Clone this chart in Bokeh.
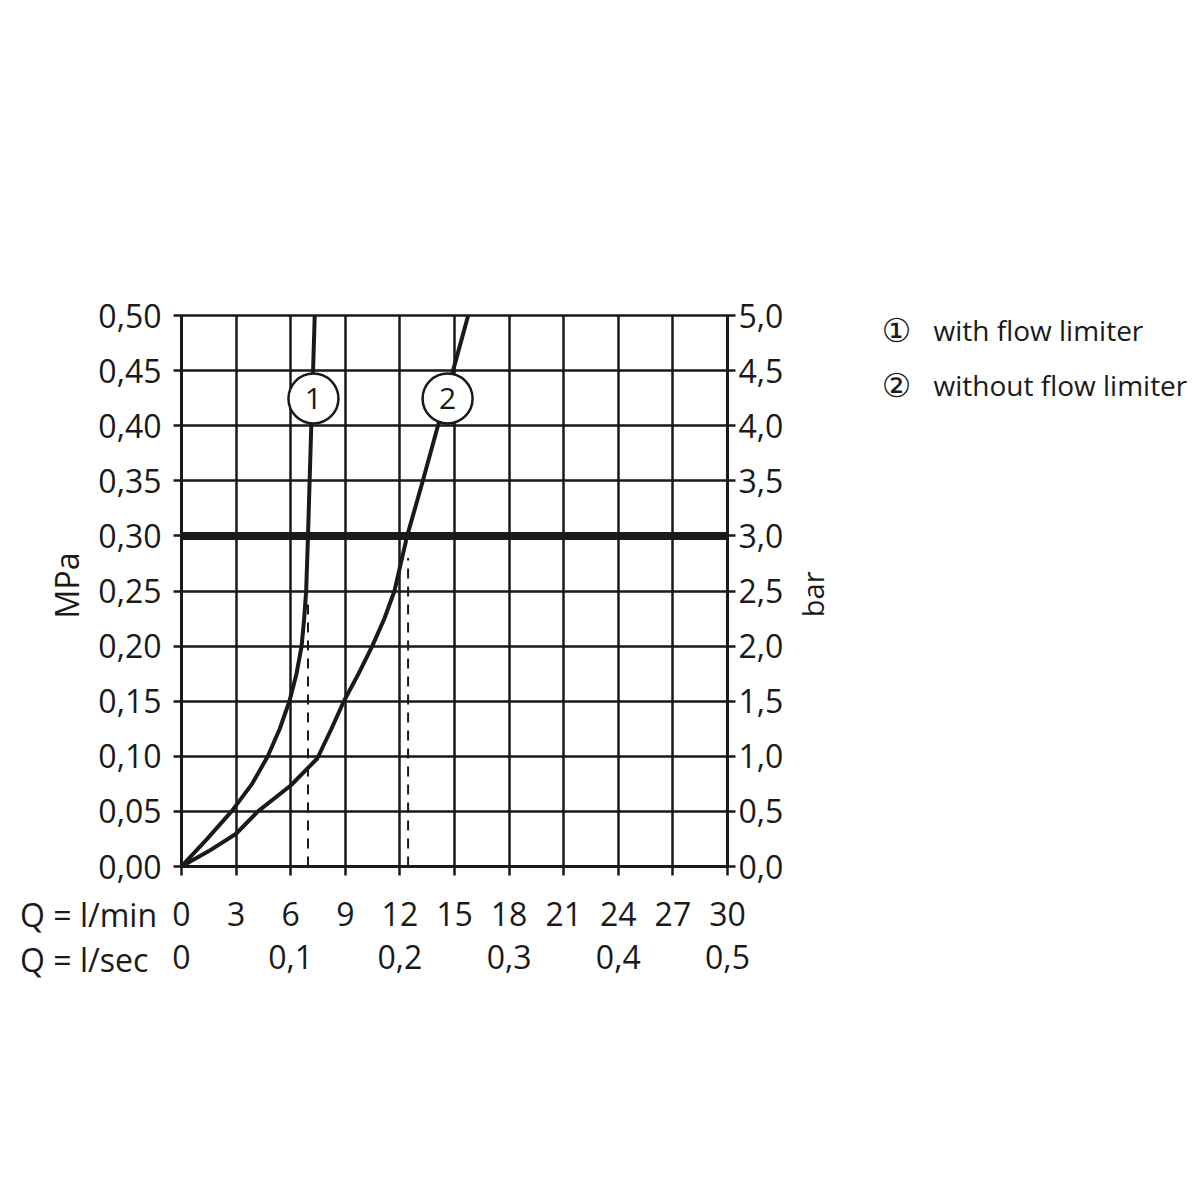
import math
from bokeh.plotting import figure
from bokeh.models import LinearAxis, Range1d, FixedTicker, GridBox
from bokeh.core.properties import value
from bokeh.embed import file_html
from bokeh.resources import INLINE

FONT = "Open Sans"
INK = "#1a1a1a"

# ---------------- data ----------------
q_lmin_ticks = [0, 3, 6, 9, 12, 15, 18, 21, 24, 27, 30]
q_lmin_labels = ["0", "3", "6", "9", "12", "15", "18", "21", "24", "27", "30"]
q_lsec_ticks = [0.0, 0.1, 0.2, 0.3, 0.4, 0.5]
q_lsec_labels = ["0", "0,1", "0,2", "0,3", "0,4", "0,5"]
mpa_ticks = [0.0, 0.05, 0.1, 0.15, 0.2, 0.25, 0.3, 0.35, 0.4, 0.45, 0.5]
mpa_labels = ["0,00", "0,05", "0,10", "0,15", "0,20", "0,25", "0,30", "0,35", "0,40", "0,45", "0,50"]
bar_ticks = [0.0, 0.5, 1.0, 1.5, 2.0, 2.5, 3.0, 3.5, 4.0, 4.5, 5.0]
bar_labels = ["0,0", "0,5", "1,0", "1,5", "2,0", "2,5", "3,0", "3,5", "4,0", "4,5", "5,0"]

# curve 1: with flow limiter (Q l/min, p MPa)
q_with = [0, 1.41, 2.75, 3.88, 4.74, 5.4, 5.93, 6.32, 6.6, 6.74, 6.85, 6.95, 7.04, 7.13, 7.23, 7.32]
p_with = [0, 0.025, 0.05, 0.075, 0.10, 0.125, 0.15, 0.175, 0.20, 0.225, 0.25, 0.30, 0.35, 0.40, 0.45, 0.50]
# curve 2: without flow limiter
q_without = [0, 1.5, 3.0, 4.2, 6.0, 7.46, 8.24, 8.92, 9.73, 10.48, 11.15, 11.7, 12.4, 13.26, 14.09, 14.92, 15.75]
p_without = [0, 0.014, 0.0297, 0.05, 0.0735, 0.098, 0.125, 0.15, 0.175, 0.20, 0.225, 0.25, 0.30, 0.35, 0.40, 0.45, 0.50]

ref_pressure = [0.30]          # 3 bar reference line
drop_q = [6.95, 12.45]         # dashed read-off lines
drop_top = [0.24, 0.28]

curve_ids = ["1", "2"]
curve_tag_q = [7.25, 14.62]
curve_tag_p = [0.4247, 0.4247]

legend_marks = ["\u2460", "\u2461"]
legend_texts = ["with flow limiter", "without flow limiter"]
row_captions = ["Q = l/min", "Q = l/sec"]
left_title = ["MPa"]
right_title = ["bar"]

Q_MAX, P_MAX = 30, 0.5

# ---------------- geometry ----------------
CANVAS = 1190
FL, FR, FT, FB = 181, 727, 315, 866     # frame edges in canvas pixels
XPER = (FR - FL) / Q_MAX
YPER = (FB - FT) / P_MAX

# ---------------- main chart ----------------
p = figure(width=CANVAS, height=CANVAS, x_range=Range1d(0, Q_MAX), y_range=Range1d(0, P_MAX),
           output_backend="svg", toolbar_location=None,
           min_border_left=FL, min_border_right=CANVAS - FR,
           min_border_top=FT, min_border_bottom=CANVAS - FB)
p.background_fill_color = "white"
p.border_fill_color = "white"
p.outline_line_color = INK
p.outline_line_width = 2.5

p.xgrid.ticker = FixedTicker(ticks=q_lmin_ticks)
p.ygrid.ticker = FixedTicker(ticks=mpa_ticks)
for g in (p.xgrid, p.ygrid):
    g.grid_line_color = INK
    g.grid_line_width = 2.5
    g.grid_line_alpha = 1.0


def style_axis(ax, tick_out, standoff):
    ax.axis_line_color = INK
    ax.axis_line_width = 3
    ax.major_tick_line_color = INK
    ax.major_tick_line_width = 2.5
    ax.major_tick_out = tick_out
    ax.major_tick_in = 0
    ax.minor_tick_line_color = None
    ax.major_label_text_font = FONT
    ax.major_label_text_font_size = "32px"
    ax.major_label_text_color = INK
    ax.major_label_standoff = standoff


ya = p.yaxis[0]
ya.ticker = FixedTicker(ticks=mpa_ticks)
ya.major_label_overrides = dict(zip(mpa_ticks, mpa_labels))
style_axis(ya, 8, 12)

xa = p.xaxis[0]
xa.ticker = FixedTicker(ticks=q_lmin_ticks)
xa.major_label_overrides = dict(zip(q_lmin_ticks, q_lmin_labels))
style_axis(xa, 9, 26)

p.extra_y_ranges = {"bar": Range1d(0, 5)}
ra = LinearAxis(y_range_name="bar", ticker=FixedTicker(ticks=bar_ticks))
ra.major_label_overrides = dict(zip(bar_ticks, bar_labels))
style_axis(ra, 8, 3)
p.add_layout(ra, "right")

p.extra_x_ranges = {"sec": Range1d(0, 0.5)}
sa = LinearAxis(x_range_name="sec", ticker=FixedTicker(ticks=q_lsec_ticks))
sa.major_label_overrides = dict(zip(q_lsec_ticks, q_lsec_labels))
style_axis(sa, 0, 16)
sa.axis_line_color = None
sa.major_tick_line_color = None
p.add_layout(sa, "below")

# 3 bar reference line
p.line(x=[0, Q_MAX], y=ref_pressure * 2, line_color=INK, line_width=8)

# dashed read-off lines
p.segment(x0=drop_q, y0=[0, 0], x1=drop_q, y1=drop_top, line_color=INK,
          line_width=2, line_dash="10 8")

# curves
p.line(x=q_with, y=p_with, line_color=INK, line_width=4, line_join="round")
p.line(x=q_without, y=p_without, line_color=INK, line_width=4, line_join="round")

# curve tags
p.scatter(x=curve_tag_q, y=curve_tag_p, size=50, marker="circle",
          fill_color="white", line_color=INK, line_width=2.5)
p.text(x=curve_tag_q, y=curve_tag_p, text=curve_ids, text_font=value(FONT),
       text_font_size="30px", text_color=INK, text_align="center", text_baseline="middle")

# ---------------- transparent overlay for texts outside the frame ----------------
ov = figure(width=CANVAS, height=CANVAS,
            x_range=Range1d(-FL / XPER, (CANVAS - FL) / XPER),
            y_range=Range1d(-(CANVAS - FB) / YPER, P_MAX + FT / YPER),
            output_backend="svg", toolbar_location=None,
            min_border_left=0, min_border_right=0, min_border_top=0, min_border_bottom=0,
            x_axis_location=None, y_axis_location=None)
ov.xgrid.visible = False
ov.ygrid.visible = False
ov.outline_line_color = None
ov.background_fill_color = None
ov.border_fill_color = None
for fig in (p, ov):
    try:
        fig.frame_align = False
    except Exception:
        pass

ov.text(x=[-6.32], y=[0.255], text=left_title, angle=math.pi / 2, text_font=value(FONT),
        text_font_size="32px", text_color=INK, text_align="center", text_baseline="middle")
ov.text(x=[34.67], y=[0.247], text=right_title, angle=math.pi / 2, text_font=value(FONT),
        text_font_size="29px", text_color=INK, text_align="center", text_baseline="middle")
ov.text(x=[-8.87, -8.87], y=[-0.0436, -0.0844], text=row_captions, text_font=value(FONT),
        text_font_size="32px", text_color=INK, text_align="left", text_baseline="middle")
ov.text(x=[39.29, 39.29], y=[0.4864, 0.4365], text=legend_marks,
        text_font=value("DejaVu Sans"), text_font_size="33px", text_color=INK,
        text_align="center", text_baseline="middle")
ov.text(x=[41.32, 41.32], y=[0.4864, 0.4365], text=legend_texts, text_font=value(FONT),
        text_font_size="28px", text_color=INK, text_align="left", text_baseline="middle")

layout = GridBox(children=[(p, 0, 0), (ov, 0, 0)])

open("out.html", "w").write(file_html(layout, INLINE))
